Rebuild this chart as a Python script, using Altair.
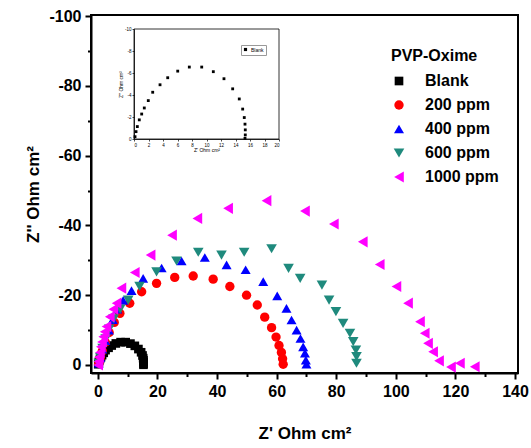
import altair as alt
import pandas as pd

series_names = ["Blank", "200 ppm", "400 ppm", "600 ppm", "1000 ppm"]
series_colors = ["#000000", "#FF0000", "#0000FF", "#1F8A7D", "#FF00FF"]
series_shapes = ["square", "circle", "triangle-up", "triangle-down", "triangle-left"]
series_sizes = [75, 125, 160, 160, 160]

# Blank
blank_x = [0.14, 0.28, 0.46, 0.73, 1.06, 1.42, 1.97, 2.58, 3.59, 4.65, 6.03, 7.63,
           9.34, 10.94, 12.41, 13.61, 14.52, 14.99, 15.21, 15.31, 15.35, 15.35, 15.31]
blank_y = [-0.21, -0.67, -1.13, -1.74, -2.27, -2.82, -3.49, -4.25, -4.93, -5.57, -6.17, -6.54,
           -6.54, -6.12, -5.48, -4.56, -3.64, -2.72, -1.95, -1.35, -0.83, -0.37, -0.06]
# 200 ppm
p200_x = [0.3, 0.8, 1.5, 2.5, 3.8, 5.5, 7.4, 10.7, 14.7, 19.7, 25.8, 32.0, 38.7, 44.3,
          49.9, 53.5, 56.0, 58.3, 59.8, 60.8, 61.6, 62.0, 62.2]
p200_y = [-0.5, -2.0, -4.0, -6.5, -9.3, -12.2, -14.8, -17.7, -21.0, -23.4, -25.1, -25.5, -24.6, -22.5,
          -20.0, -17.2, -13.7, -10.7, -8.0, -5.6, -3.6, -1.8, -0.2]
# 400 ppm
p400_x = [0.3, 0.8, 1.5, 2.5, 3.7, 5.0, 6.5, 8.5, 11.3, 15.2, 21.4, 28.1, 35.9, 43.2, 49.6,
          55.5, 60.2, 63.3, 65.0, 66.7, 68.0, 68.9, 69.5, 69.8, 70.0]
p400_y = [-0.5, -2.2, -4.5, -7.0, -10.0, -13.0, -16.0, -18.5, -21.3, -24.8, -27.8, -29.8, -30.8, -28.7, -27.3,
          -23.9, -19.8, -16.2, -12.9, -10.0, -7.6, -5.2, -3.4, -1.4, -0.2]
# 600 ppm
p600_x = [0.3, 0.8, 1.6, 2.6, 3.8, 5.3, 7.5, 10.2, 14.0, 19.7, 26.4, 33.7, 41.5, 49.1, 58.3,
          64.0, 67.9, 75.2, 77.6, 79.9, 82.3, 84.6, 85.7, 86.6, 86.8, 86.8]
p600_y = [-0.5, -2.2, -4.8, -7.5, -10.3, -13.2, -16.0, -18.6, -22.5, -26.7, -29.8, -32.3, -31.5, -32.3, -33.3,
          -27.7, -24.8, -22.9, -18.6, -15.3, -11.9, -9.1, -6.7, -4.3, -2.4, -0.5]
# 1000 ppm
p1000_x = [0.1, 0.2, 0.4, 0.7, 1.0, 1.4, 1.8, 2.3, 2.9, 4.0, 5.2, 6.3, 7.9, 12.4, 17.7, 24.9,
           33.4, 43.7, 56.6, 69.5, 79.2, 88.9, 94.6, 100.2, 104.1, 108.1, 109.7, 110.8, 112.5,
           114.5, 118.5, 121.5, 126.5]
p1000_y = [0.0, -1.0, -2.2, -3.6, -5.2, -6.6, -8.1, -9.5, -11.0, -13.8, -16.0, -17.7, -22.0, -26.5, -31.5, -37.2,
           -42.0, -44.9, -47.1, -44.1, -40.4, -35.3, -28.8, -22.5, -17.7, -12.4, -9.1, -6.2, -3.8,
           -1.2, 0.6, -0.5, 0.5]

x_ticks = list(range(0, 141, 10))
y_ticks = list(range(-100, 1, 10))
inset_x_ticks = list(range(0, 21, 2))
inset_y_ticks = list(range(-10, 1, 2))

all_x = [blank_x, p200_x, p400_x, p600_x, p1000_x]
all_y = [blank_y, p200_y, p400_y, p600_y, p1000_y]
rows = []
for name, xs, ys in zip(series_names, all_x, all_y):
    for a, b in zip(xs, ys):
        rows.append({"series": name, "x": a, "y": b})
df = pd.DataFrame(rows)
blank_df = pd.DataFrame({"series": "Blank", "x": blank_x, "y": blank_y})
frame_df = pd.DataFrame({"k": [0]})

FONT = "Liberation Sans"
minor_x = {"condition": {"test": "datum.value % 20 !== 0", "value": 3.5}, "value": 6}

legend_main = alt.Legend(
    title="PVP-Oxime", orient="none", legendX=300, legendY=33, padding=0,
    titleFont=FONT, titleFontSize=16, titleFontWeight="bold", titleColor="black",
    titlePadding=9, labelFont=FONT, labelFontSize=16, labelFontWeight="bold",
    labelColor="black", labelOffset=18, rowPadding=8, symbolSize=100,
    symbolStrokeWidth=0, symbolOpacity=1,
)

main = alt.Chart(df).mark_point(filled=True, opacity=1, strokeWidth=0).encode(
    x=alt.X("x:Q", scale=alt.Scale(domain=[-2.3, 141], nice=False, zero=False),
            axis=alt.Axis(values=x_ticks, title="Z' Ohm cm²",
                          labelExpr="datum.value % 20 === 0 ? '' + datum.value : ''",
                          tickSize=minor_x, titlePadding=26)),
    y=alt.Y("y:Q", scale=alt.Scale(domain=[-100.3, 2.3], reverse=True, nice=False, zero=False),
            axis=alt.Axis(values=y_ticks, title="Z'' Ohm cm²",
                          labelExpr="datum.value % 20 === 0 ? '' + datum.value : ''",
                          tickSize=minor_x, titlePadding=6)),
    color=alt.Color("series:N", scale=alt.Scale(domain=series_names, range=series_colors), legend=legend_main),
    shape=alt.Shape("series:N", scale=alt.Scale(domain=series_names, range=series_shapes), legend=legend_main),
    size=alt.Size("series:N", scale=alt.Scale(domain=series_names, range=series_sizes), legend=None),
)

inset_x_axis = alt.Axis(orient="bottom", offset=-234, values=inset_x_ticks, title="Z' Ohm cm²",
                        labelFontSize=4.5, labelFontWeight="normal", titleFontSize=5,
                        titleFontWeight="normal", tickSize=2, tickWidth=0.7, domainWidth=0.8,
                        labelPadding=1, titlePadding=1, grid=False)
inset_y_axis = alt.Axis(orient="left", offset=-43, values=inset_y_ticks, title="Z'' Ohm cm²",
                        labelExpr="'' + datum.value",
                        labelFontSize=4.5, labelFontWeight="normal", titleFontSize=5,
                        titleFontWeight="normal", tickSize=2, tickWidth=0.7, domainWidth=0.8,
                        labelPadding=1, titlePadding=1, grid=False)
inset_xs = alt.Scale(domain=[0, 20], range=[43, 188], nice=False, zero=False)
inset_ys = alt.Scale(domain=[-10, 0], range=[14, 124], nice=False, zero=False)

inset_pts = alt.Chart(blank_df).mark_point(filled=True, shape="square", size=8, opacity=1, strokeWidth=0).encode(
    x=alt.X("x:Q", scale=inset_xs, axis=inset_x_axis),
    y=alt.Y("y:Q", scale=inset_ys, axis=inset_y_axis),
    color=alt.Color("series:N", scale=alt.Scale(domain=["Blank"], range=["#000000"]),
                    legend=alt.Legend(title=None, orient="none", legendX=150, legendY=30,
                                      symbolType="square", symbolSize=10, labelFontSize=5,
                                      labelFontWeight="normal", labelOffset=3, padding=2,
                                      strokeColor="#999999", symbolStrokeWidth=0)),
)
inset_frame = alt.Chart(frame_df).mark_rect(filled=False, stroke="black", strokeWidth=0.8).encode(
    x=alt.X(datum=0, type="quantitative", scale=inset_xs, axis=inset_x_axis),
    x2=alt.X2(datum=20),
    y=alt.Y(datum=-10, type="quantitative", scale=inset_ys, axis=inset_y_axis),
    y2=alt.Y2(datum=0),
)
inset = alt.layer(inset_frame, inset_pts)

chart = alt.layer(main, inset).resolve_scale(
    x="independent", y="independent", color="independent", shape="independent", size="independent"
).resolve_axis(x="independent", y="independent").resolve_legend(
    color="independent", shape="independent"
).properties(
    width=427, height=358,
    autosize=alt.AutoSizeParams(type="none"),
    padding={"left": 91, "top": 15, "right": 13, "bottom": 75},
    background="white",
).configure_view(
    stroke="black", strokeWidth=2
).configure_axis(
    labelFont=FONT, labelFontSize=16, labelFontWeight="bold", labelColor="black",
    titleFont=FONT, titleFontSize=17, titleFontWeight="bold", titleColor="black",
    domainColor="black", domainWidth=2, tickColor="black", tickWidth=2, grid=False,
    labelPadding=4,
)

chart.save("out.html", embed_options={"renderer": "svg", "actions": False})
